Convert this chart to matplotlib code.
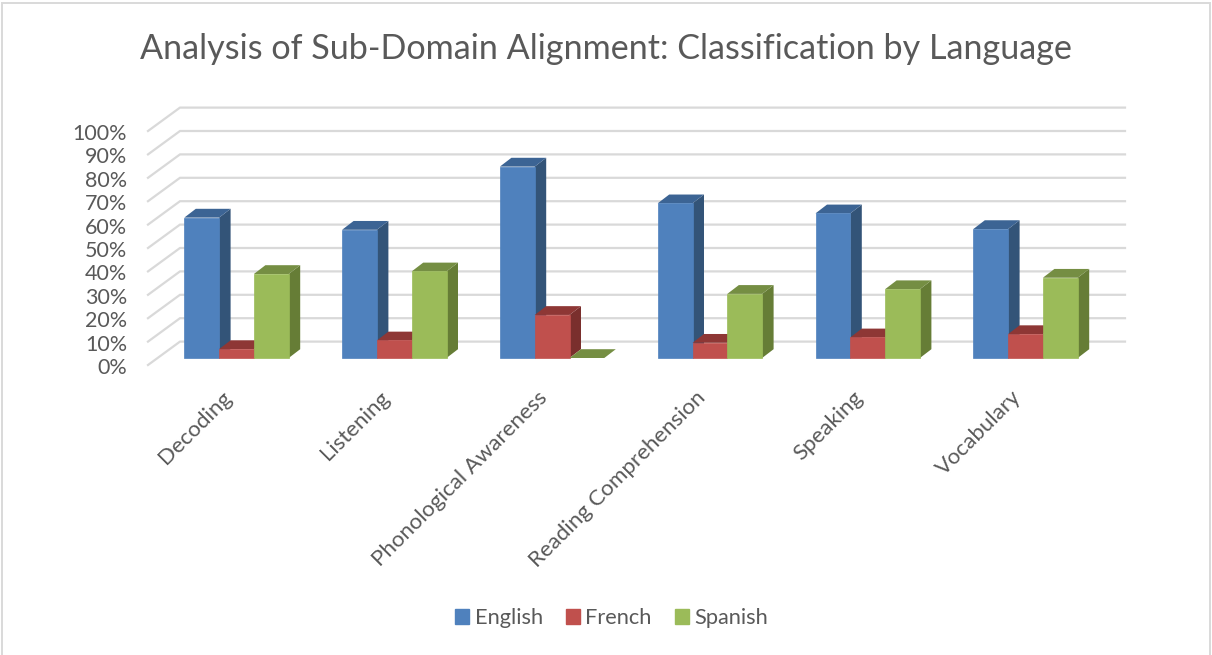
import matplotlib
matplotlib.use('Agg')
import matplotlib.pyplot as plt
from matplotlib.patches import Rectangle
from matplotlib.transforms import ScaledTranslation

categories = ['Decoding', 'Listening', 'Phonological Awareness',
              'Reading Comprehension', 'Speaking', 'Vocabulary']
english = [60, 54.8, 81.8, 66.1, 61.8, 55.1]
french = [3.8, 7.5, 18.4, 6.5, 8.8, 10.2]
spanish = [35.9, 37, 0, 27.4, 29.4, 34.3]
y_ticks = [0, 10, 20, 30, 40, 50, 60, 70, 80, 90, 100]

# front, top, side colours for each language
series = [('English', english, '#4F81BD', '#3C6494', '#335478'),
          ('French', french, '#C0504D', '#8E3735', '#7A2F2D'),
          ('Spanish', spanish, '#9BBB59', '#758E43', '#667D36')]

plt.rcParams['font.family'] = ['Lato', 'DejaVu Sans']
text_color = '#595959'
grid_color = '#D9D9D9'

W, H = 1212, 655
fig = plt.figure(figsize=(W / 100, H / 100), dpi=100)
ax = fig.add_axes([148 / W, 1 - 365 / H, (1125 - 148) / W, (365 - 108) / H])

px_x = 157.8  # pixels per category
px_y = 2.34  # pixels per percent
center0 = 236.5
ax.set_xlim((148 - center0) / px_x, (1125 - center0) / px_x)
ax.set_ylim(0, (365 - 108) / px_y)

wall_dx = 32 / px_x
wall_dy = 23.4 / px_y
floor_y = 7 / px_y
bar_w = 34.8 / px_x
bar_dx = 11.5 / px_x
bar_dy = 8.8 / px_y

# Back wall gridlines and the diagonal lines on the side wall.
for t in y_ticks:
    ax.plot([ax.get_xlim()[0], ax.get_xlim()[0] + wall_dx, ax.get_xlim()[1]],
            [t, t + wall_dy, t + wall_dy], color=grid_color, lw=1.6,
            solid_joinstyle='miter', clip_on=False, zorder=1)

# Bars go left to right so each front covers the side of the one before.
z = 2
for i in range(len(categories)):
    for j, (name, values, front, top, side) in enumerate(series):
        x0 = i + (j - 1.5) * bar_w
        x1 = x0 + bar_w
        y0 = floor_y
        y1 = floor_y + values[i]
        ax.fill([x1, x1 + bar_dx, x1 + bar_dx, x1],
                [y0, y0 + bar_dy, y1 + bar_dy, y1], color=side, lw=0, zorder=z)
        ax.fill([x0, x1, x1 + bar_dx, x0 + bar_dx],
                [y1, y1, y1 + bar_dy, y1 + bar_dy], color=top, lw=0, zorder=z)
        if values[i] > 0:
            ax.bar(x0, values[i], width=bar_w, bottom=y0, align='edge', color=front,
                   edgecolor=front, lw=0.5, zorder=z)
        z += 1

for spine in ax.spines.values():
    spine.set_visible(False)
ax.patch.set_visible(False)

ax.set_yticks(y_ticks)
ax.set_yticklabels([f'{t}%' for t in y_ticks], fontsize=15.5, color=text_color)
ax.set_xticks(range(len(categories)))
ax.set_xticklabels(categories, rotation=45, ha='right', rotation_mode='anchor',
                   fontsize=16, color=text_color)
ax.tick_params(axis='y', length=0, pad=15)
ax.tick_params(axis='x', length=0, pad=16)

# Category labels sit a little left of the group centre, y labels a pixel lower.
shift = ScaledTranslation(-15 / 100, 0, fig.dpi_scale_trans)
for label in ax.get_xticklabels():
    label.set_transform(label.get_transform() + shift)
down = ScaledTranslation(0, -1 / 100, fig.dpi_scale_trans)
for label in ax.get_yticklabels():
    label.set_transform(label.get_transform() + down)

handles = [Rectangle((0, 0), 1, 1, color=s[2]) for s in series]
fig.legend(handles, [s[0] for s in series], loc='center', ncol=3,
           bbox_to_anchor=(611.5 / W, 1 - 618 / H), frameon=False, fontsize=15.7,
           labelcolor=text_color, handlelength=0.64, handleheight=0.64,
           handletextpad=0.25, columnspacing=1.06)

fig.text(606.5 / W, 1 - 49 / H, 'Analysis of Sub-Domain Alignment: Classification by Language',
         ha='center', va='center', fontsize=24.6, color=text_color)

# Chart frame along the image edges, open at the bottom.
fig.add_artist(Rectangle((2 / W, -0.1), 1208 / W, 1.1 - 3 / H, transform=fig.transFigure,
                         fill=False, edgecolor='#D9D9D9', lw=1.4))

fig.savefig('out.png', dpi=100)
